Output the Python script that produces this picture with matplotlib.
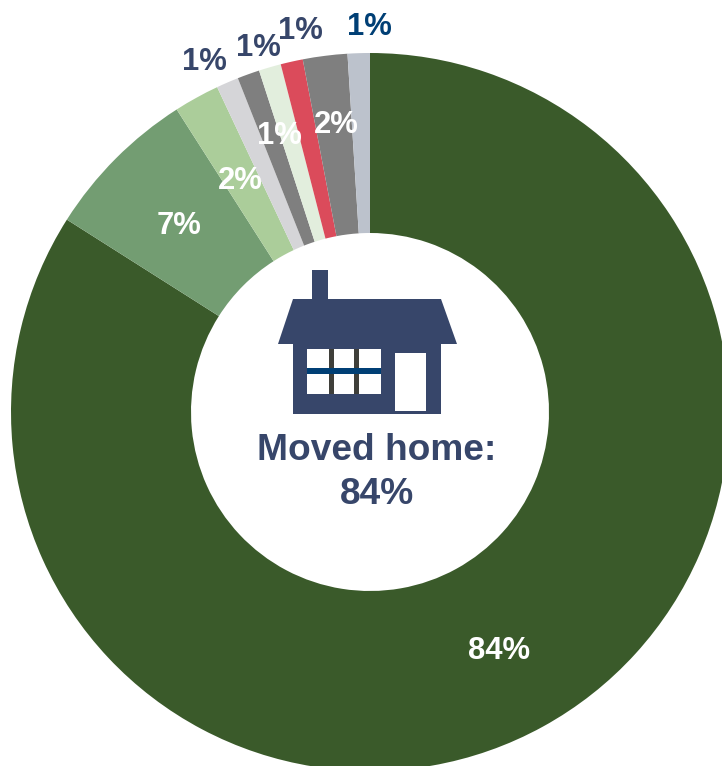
"""Donut chart of where people moved, with a house icon in the hole."""

import matplotlib

matplotlib.use("Agg")
import matplotlib.pyplot as plt
from matplotlib.patches import Polygon, Rectangle

plt.rcParams["font.family"] = ["Liberation Sans", "DejaVu Sans"]

W, H = 722, 766

values = [84, 6.95, 2.05, 1, 1, 1, 1, 2, 1]
labels = ["84%", "7%", "2%", "1%", "1%", "1%", "1%", "2%", "1%"]
colors = ["#3A5A2A", "#739D72", "#ABCD9A", "#D5D5D8", "#7F7F7F",
          "#E2EEDD", "#DB4B5B", "#7F7F7F", "#BCC2CC"]

# label centres in image pixels, same order as values
label_pos = [(499, 651), (179, 226), (240, 181), (204, 62), (258, 48),
             (279, 136), (300, 31), (336, 125), (369, 27)]
label_col = ["white", "white", "white", "#37466A", "#37466A",
             "white", "#37466A", "white", "#003F75"]

NAVY = "#37466A"
BAR = "#3F3F3A"
BLUE = "#003F75"


def flip(y):
    return H - y


def rect(ax, x0, y0, x1, y1, color):
    ax.add_patch(Rectangle((x0, flip(y1)), x1 - x0, y1 - y0, fc=color, ec="none", zorder=3))


fig = plt.figure(figsize=(W / 100, H / 100), dpi=100)
ax = fig.add_axes([0, 0, 1, 1])
ax.pie(values, colors=colors, startangle=90, counterclock=False,
       center=(370, flip(412)), radius=359,
       wedgeprops={"width": 180, "linewidth": 0})
ax.set_xlim(0, W)
ax.set_ylim(0, H)
ax.set_aspect("equal")
ax.axis("off")

for text, (x, y), col in zip(labels, label_pos, label_col):
    ax.text(x, flip(y), text, color=col, fontsize=22.3, fontweight="bold",
            ha="center", va="center", zorder=4)

# house icon
rect(ax, 312, 270, 328, 300, NAVY)
ax.add_patch(Polygon([(293, flip(299)), (441, flip(299)), (457, flip(344)), (278, flip(344))],
                     fc=NAVY, ec="none", zorder=3))
rect(ax, 293, 343, 441, 414, NAVY)
rect(ax, 307, 349, 381, 394, "white")
rect(ax, 329, 349, 334, 394, BAR)
rect(ax, 354, 349, 359, 394, BAR)
rect(ax, 307, 368, 381, 374, BLUE)
rect(ax, 395, 353, 426, 411, "white")

ax.text(377, flip(451), "Moved home:", color=NAVY, fontsize=26.7, fontweight="bold",
        ha="center", va="center", zorder=4)
ax.text(377, flip(494), "84%", color=NAVY, fontsize=26.7, fontweight="bold",
        ha="center", va="center", zorder=4)

fig.savefig("out.png", dpi=100)
